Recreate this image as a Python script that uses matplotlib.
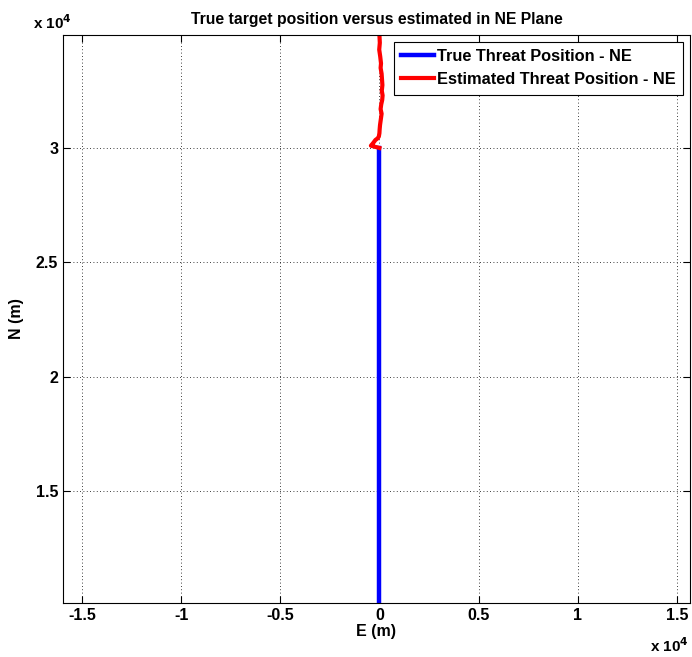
import numpy as np
import matplotlib.pyplot as plt

# true threat track (E, N in metres)
true_e = [0, 0]
true_n = [10100, 30000]

# estimated threat track
est_e = [0, 20, -10, 40, 80, 60, 110, 130, 150, 120, 160, 140, 90, 60, 110,
         70, 30, 10, 0, -30, -90, -200, -330, -430, -260, -80, 0]
est_n = [34950, 34600, 34300, 34000, 33700, 33500, 33250, 33000, 32750, 32500,
         32300, 32100, 31900, 31700, 31500, 31250, 31000, 30800, 30650, 30500,
         30420, 30350, 30200, 30100, 30060, 30020, 30000]

plt.rcParams['font.family'] = ['Liberation Sans', 'DejaVu Sans']
plt.rcParams['font.weight'] = 'bold'

fig = plt.figure(figsize=(6.92, 6.57), dpi=100)
ax = fig.add_axes([0.091, 0.0822, 0.906, 0.8645])

ax.plot(true_e, true_n, color='#0000ff', lw=3.2, label='True Threat Position - NE')
ax.plot(est_e, est_n, color='#ff0000', lw=3.0, label='Estimated Threat Position - NE')

ax.set_xlim(-15960, 15660)
ax.set_ylim(10100, 34940)
xt = [-15000, -10000, -5000, 0, 5000, 10000, 15000]
yt = [15000, 20000, 25000, 30000]
ax.set_xticks(xt)
ax.set_xticklabels(['-1.5', '-1', '-0.5', '0', '0.5', '1', '1.5'])
ax.set_yticks(yt)
ax.set_yticklabels(['1.5', '2', '2.5', '3'])
ax.tick_params(direction='in', top=True, right=True, labelsize=11.5, length=5, width=0.8)
for lab in ax.get_xticklabels() + ax.get_yticklabels():
    lab.set_fontweight('bold')
ax.grid(True, color='black', linestyle=(0, (1, 3)), lw=0.6)
for s in ax.spines.values():
    s.set_linewidth(0.8)

ax.set_xlabel('E (m)', fontsize=11.5, fontweight='bold', labelpad=1)
ax.set_ylabel('N (m)', fontsize=11.5, fontweight='bold', labelpad=8)
ax.set_title('True target position versus estimated in NE Plane', fontsize=11.3,
             fontweight='bold', pad=8)

fig.text(0.048, 0.956, r'x 10$^{\mathbf{4}}$', fontsize=11, fontweight='bold')
fig.text(0.94, 0.008, r'x 10$^{\mathbf{4}}$', fontsize=11, fontweight='bold')

leg = ax.legend(loc='upper right', fontsize=11.8, fancybox=False, framealpha=1,
                edgecolor='black', handlelength=2.0, handletextpad=0.2,
                borderaxespad=0.4, labelspacing=0.5, borderpad=0.45)
leg.get_frame().set_linewidth(0.8)
for t in leg.get_texts():
    t.set_fontweight('bold')

fig.savefig('out.png', dpi=100)
